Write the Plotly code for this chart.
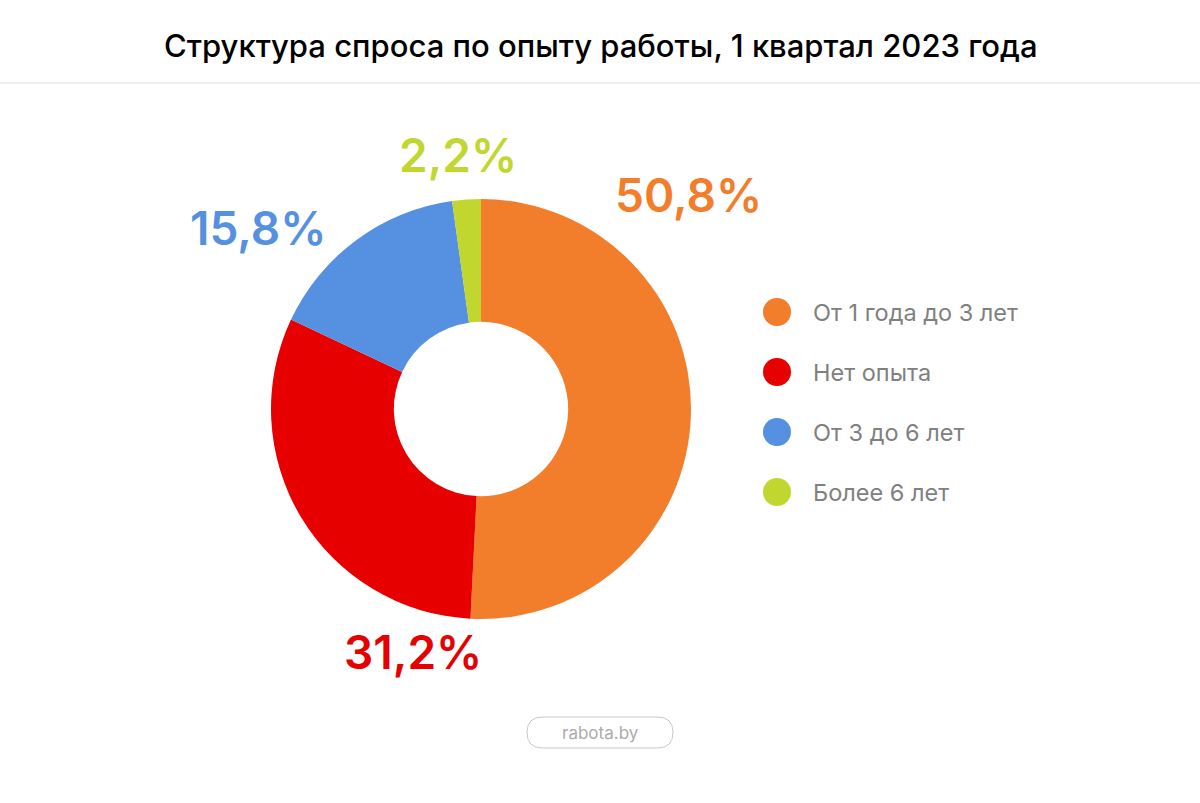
import plotly.graph_objects as go

categories = ["От 1 года до 3 лет", "Нет опыта", "От 3 до 6 лет", "Более 6 лет"]
values = [50.8, 31.2, 15.8, 2.2]
value_labels = ["50,8%", "31,2%", "15,8%", "2,2%"]
colors = ["#F27D2B", "#E60000", "#5591E0", "#C1D72F"]
title_text = "Структура спроса по опыту работы, 1 квартал 2023 года"

W, H = 1200, 803
cx, cy, R = 481, 409, 210

fig = go.Figure()
fig.add_trace(go.Pie(
    labels=categories, values=values, sort=False, direction="clockwise", rotation=0,
    hole=0.415, marker=dict(colors=colors, line=dict(width=0)),
    textinfo="none", hoverinfo="label+percent", showlegend=False,
    domain=dict(x=[(cx - R) / W, (cx + R) / W], y=[(H - cy - R) / H, (H - cy + R) / H]),
))

def px(x):
    return x / W

def py(y):
    return 1 - y / H

annotations = []
shapes = []
# value labels
label_pos = [(688, 195), (413, 652), (258, 228), (458, 155)]
for (x, y), t, c in zip(label_pos, value_labels, colors):
    annotations.append(dict(x=px(x), y=py(y), xref="paper", yref="paper", text=t, showarrow=False,
                            xanchor="center", yanchor="middle",
                            font=dict(family="Inter", size=46, color=c, weight=600)))

# title
annotations.append(dict(x=0.5, y=py(45), xref="paper", yref="paper", text=title_text, showarrow=False,
                        xanchor="center", yanchor="middle",
                        font=dict(family="Inter", size=31, color="#000000", weight=500)))
shapes.append(dict(type="line", xref="paper", yref="paper", x0=0, x1=1, y0=py(83), y1=py(83),
                   line=dict(color="#DDDDDD", width=1)))

# legend
for i, (cat, c) in enumerate(zip(categories, colors)):
    y = 312 + 60 * i
    r = 14
    shapes.append(dict(type="circle", xref="paper", yref="paper",
                       x0=px(777 - r), x1=px(777 + r), y0=py(y + r), y1=py(y - r),
                       fillcolor=c, line=dict(width=0)))
    annotations.append(dict(x=px(811), y=py(y), xref="paper", yref="paper", text=cat, showarrow=False,
                            xanchor="left", yanchor="middle",
                            font=dict(family="Inter", size=23.5, color="#808080")))

# watermark
x0, x1, y0, y1 = 527, 673, 717, 748
rr = (y1 - y0) / 2
path = (f"M {px(x0 + rr)} {py(y0)} L {px(x1 - rr)} {py(y0)} "
        f"Q {px(x1)} {py(y0)} {px(x1)} {py((y0 + y1) / 2)} "
        f"Q {px(x1)} {py(y1)} {px(x1 - rr)} {py(y1)} "
        f"L {px(x0 + rr)} {py(y1)} "
        f"Q {px(x0)} {py(y1)} {px(x0)} {py((y0 + y1) / 2)} "
        f"Q {px(x0)} {py(y0)} {px(x0 + rr)} {py(y0)} Z")
shapes.append(dict(type="path", xref="paper", yref="paper", path=path,
                   line=dict(color="#C8C8C8", width=1), fillcolor="rgba(0,0,0,0)"))
annotations.append(dict(x=px(600), y=py(733), xref="paper", yref="paper", text="rabota.by", showarrow=False,
                        xanchor="center", yanchor="middle",
                        font=dict(family="Inter", size=17, color="#ABABAB")))

fig.update_layout(
    width=W, height=H, margin=dict(l=0, r=0, t=0, b=0),
    paper_bgcolor="white", plot_bgcolor="white",
    annotations=annotations, shapes=shapes, showlegend=False,
)
fig.write_html("out.html")
